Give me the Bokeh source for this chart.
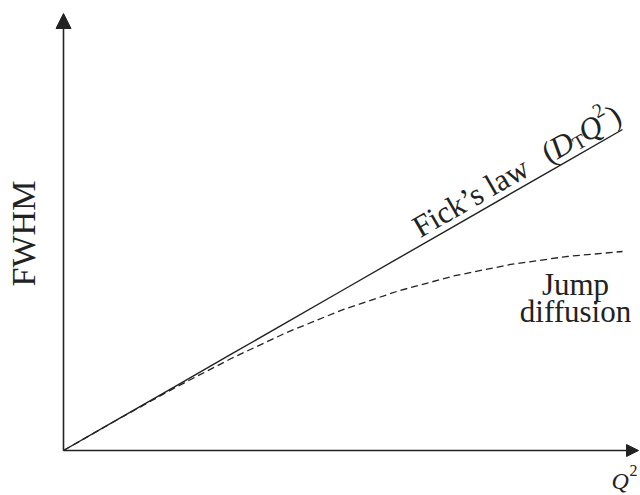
import math
from bokeh.plotting import figure
from bokeh.models import Arrow, NormalHead, Range1d
from bokeh.core.properties import value
from bokeh.embed import file_html
from bokeh.resources import INLINE

# ---- data (arbitrary units) ----
q2 = [0.0, 0.1, 0.2, 0.3, 0.4, 0.5, 0.6, 0.7, 0.8, 0.9, 1.0]
fick = [0.0, 0.1, 0.2, 0.3, 0.4, 0.5, 0.6, 0.7, 0.8, 0.9, 1.0]
jump = [0.0, 0.0996, 0.1962, 0.2866, 0.3683, 0.439, 0.4977, 0.5445, 0.5796, 0.6043, 0.620]

x_label = "Q"
y_label = "FWHM"
fick_label = "Fick\u2019s law"
jump_label = ["Jump", "diffusion"]

# ---- layout helpers (screen pixels -> data) ----
OX, OY = 63.0, 450.0     # origin in screen pixels
SX, SY = 559.0, 321.0    # pixels per data unit
W, H = 640, 495

def tx(X):
    return (X - OX) / SX

def ty(Y):
    return (OY - Y) / SY

INK = "#222222"
SERIF = value("Liberation Serif")

p = figure(width=W, height=H, output_backend="svg", toolbar_location=None,
           x_range=Range1d(tx(0), tx(W)), y_range=Range1d(ty(H), ty(0)),
           min_border=0, background_fill_color="white", border_fill_color="white")
p.axis.visible = False
p.grid.visible = False
p.outline_line_color = None

# axes with arrow heads
X_END = tx(638)
Y_END = ty(13)
p.add_layout(Arrow(end=NormalHead(size=12, fill_color=INK, line_color=INK),
                   x_start=0, y_start=0, x_end=X_END, y_end=0,
                   line_color=INK, line_width=1.6))
p.add_layout(Arrow(end=NormalHead(size=15, fill_color=INK, line_color=INK),
                   x_start=0, y_start=0, x_end=0, y_end=Y_END,
                   line_color=INK, line_width=1.6))

# curves
p.line(q2, fick, line_color=INK, line_width=1.4)
p.line(q2, jump, line_color=INK, line_width=1.3, line_dash="7 4")

# Fick's law label along the line
theta = math.atan2(SY * fick[-1], SX * q2[-1])
c, s_ = math.cos(theta), math.sin(theta)

def along(s, d):
    X = OX + s * c - d * s_
    Y = OY - s * s_ - d * c
    return tx(X), ty(Y)

S0 = 415.0
pieces = [
    (fick_label, 0, 17, 31, "normal"),
    ("(", 149, 17, 31, "normal"),
    ("D", 158, 17, 31, "italic"),
    ("T", 180, 11, 20, "normal"),
    ("Q", 191, 17, 31, "italic"),
    ("2", 213, 29, 20, "normal"),
    (")", 224, 17, 31, "normal"),
]
for txt, off, d, size, style in pieces:
    x, y = along(S0 + off, d)
    p.text(x=[x], y=[y], text=[txt], angle=theta, text_font=SERIF,
           text_font_size=f"{size}px", text_font_style=style,
           text_color=INK, text_align="left", text_baseline="alphabetic")

# Jump diffusion label
p.text(x=[tx(575), tx(575)], y=[ty(284), ty(311)], text=jump_label,
       text_font=SERIF, text_font_size="31px", text_color=INK,
       text_align="center", text_baseline="alphabetic")

# y label
p.text(x=[tx(23)], y=[ty(233)], text=[y_label], angle=math.pi / 2,
       text_font=SERIF, text_font_size="34px", text_color=INK,
       text_align="center", text_baseline="alphabetic")

# x label Q^2
p.text(x=[tx(611)], y=[ty(480)], text=[x_label], text_font=SERIF,
       text_font_size="24px", text_font_style="italic", text_color=INK,
       text_align="left", text_baseline="alphabetic")
p.text(x=[tx(629)], y=[ty(470)], text=["2"], text_font=SERIF,
       text_font_size="16px", text_color=INK,
       text_align="left", text_baseline="alphabetic")

open("out.html", "w").write(file_html(p, INLINE))
